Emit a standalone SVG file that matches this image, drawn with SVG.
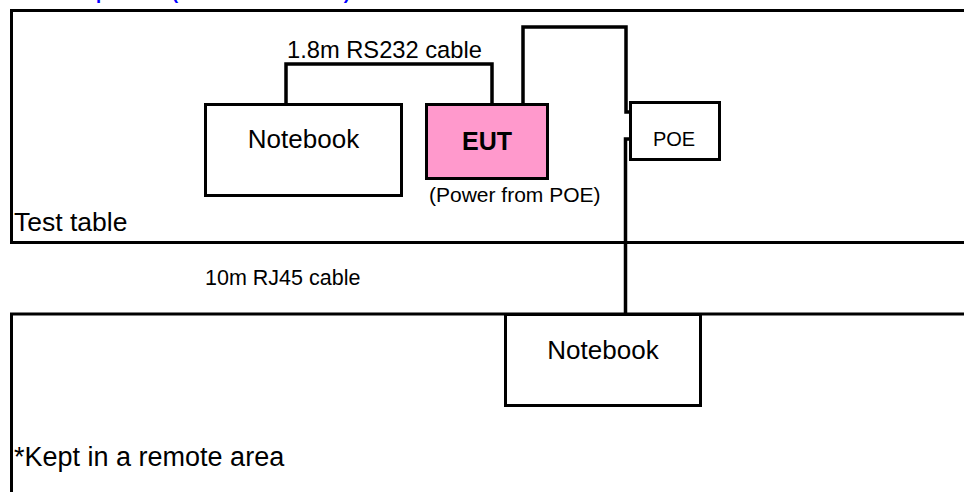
<svg xmlns="http://www.w3.org/2000/svg" width="964" height="492" viewBox="0 0 964 492">
<style>
text{font-family:"Liberation Sans",Arial,sans-serif;fill:#000}
.box{fill:#fff;stroke:#000;stroke-width:3}
.area{fill:none;stroke:#000;stroke-width:3}
.wire{fill:none;stroke:#000;stroke-width:3.5;stroke-linejoin:miter}
</style>
<rect width="964" height="492" fill="#fff"/>
<text y="-1" font-size="18.5" font-weight="bold" style="fill:#0000ff"><tspan x="14">Test Setup</tspan><tspan x="172">(Radiated Emission)</tspan></text>
<g id="test-table">
<rect class="area" x="11.5" y="10.5" width="970" height="232"/>
<text x="14" y="231" font-size="26.5">Test table</text>
</g>
<g id="remote-area">
<rect class="area" x="11.5" y="314" width="970" height="200"/>
<text x="14" y="466" font-size="27">*Kept in a remote area</text>
</g>
<g id="connectors">
<polyline class="wire" points="286,104 286,64 492,64 492,104"/>
<polyline class="wire" points="523,104 523,27 626,27 626,112 629,112"/>
<polyline class="wire" points="629,139 625.5,139 625.5,314"/>
<text x="287" y="58" font-size="23.7">1.8m RS232 cable</text>
<text x="205" y="285" font-size="21.5">10m RJ45 cable</text>
</g>
<g id="notebook1">
<rect class="box" x="205.5" y="104.5" width="196" height="91"/>
<text x="303.5" y="148" font-size="26" text-anchor="middle">Notebook</text>
</g>
<g id="eut">
<rect class="box" x="426.5" y="104.5" width="121" height="74" style="fill:#ff99cc"/>
<text x="487" y="150" font-size="25" font-weight="bold" text-anchor="middle">EUT</text>
<text x="429" y="202" font-size="21">(Power from POE)</text>
</g>
<g id="poe">
<rect class="box" x="630.5" y="102.5" width="89" height="57"/>
<text x="674" y="146" font-size="20" text-anchor="middle">POE</text>
</g>
<g id="notebook2">
<rect class="box" x="505.5" y="314.5" width="195" height="91"/>
<text x="603" y="359" font-size="26" text-anchor="middle">Notebook</text>
</g>
</svg>
